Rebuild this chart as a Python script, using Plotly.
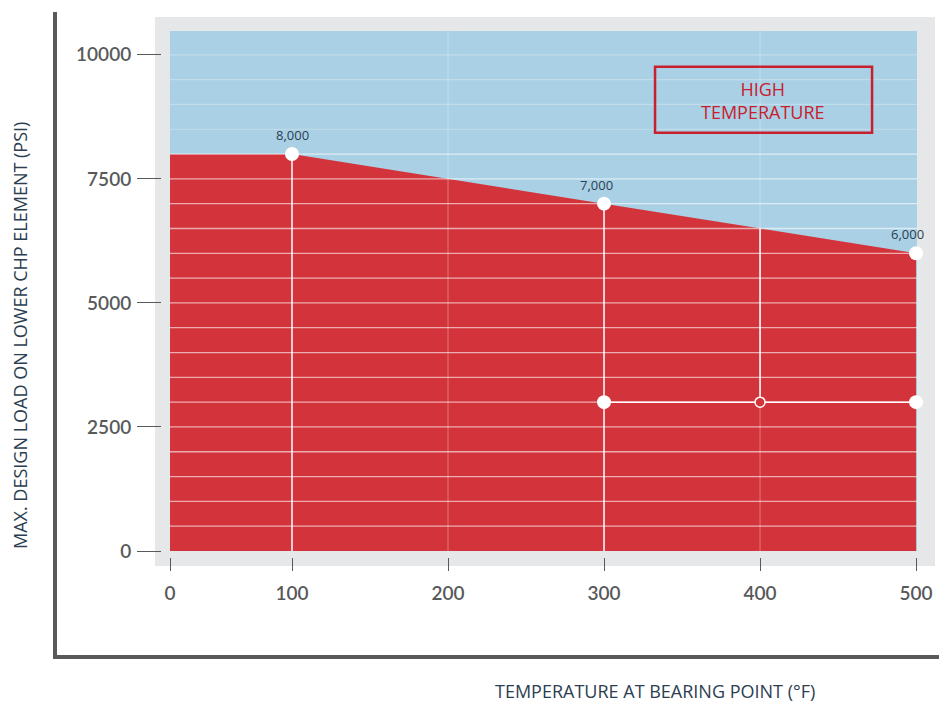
import numpy as np
import plotly.graph_objects as go

# ---------------- data ----------------
temps = [0, 100, 300, 500]                 # temperature at bearing point (°F)
max_load = [8000, 8000, 7000, 6000]        # max design load (PSI)

label_temps = [100, 300, 500]
label_loads = [8000, 7000, 6000]
label_texts = ["8,000", "7,000", "6,000"]

guide_verticals = [100, 300]               # white drop lines to the axis
row_temps = [300, 500]                     # filled points on the 3000 PSI row
row_load = 3000
hollow_temp = 400                          # hollow point on the 3000 PSI row

x_tick_vals = [100, 200, 300, 400, 500]
x_tick_labels = ["0", "100", "200", "300", "400", "500"]
y_tick_vals = [0, 2500, 5000, 7500, 10000]
y_tick_labels = ["0", "2500", "5000", "7500", "10000"]

box_text = "HIGH<br>TEMPERATURE"
x_title = "TEMPERATURE AT BEARING POINT (°F)"
y_title = "MAX. DESIGN LOAD ON LOWER CHP ELEMENT (PSI)"

# ---------------- layout constants ----------------
W, H = 939, 704
L, R, T, B = 161, 22, 31, 147
PW, PH = W - L - R, H - T - B


def px(xp):
    return (xp - L) / PW


def py(yp):
    return (H - B - yp) / PH


X0, X1 = 21.8, 500.6
Y0, Y1 = 0, 10480
GRID_STEP = 500

RED = "#d3343b"
BLUE = "#a9d0e4"
FRAME = "#e6e7e8"
DARK = "#58595b"
TEXT = "#2c3e50"
BOX_RED = "#c8202f"

fig = go.Figure()

# red area
fig.add_trace(go.Scatter(x=temps, y=max_load, mode="lines", fill="tozeroy",
                         fillcolor=RED, line=dict(width=0, color=RED),
                         hoverinfo="skip", showlegend=False))

# gridlines
top_limit = max(max_load)
bx, by, fx, fy = [], [], [], []
for v in np.arange(GRID_STEP, 10000 + 1, GRID_STEP):
    if v <= top_limit:
        bx += [X0, X1, None]; by += [v, v, None]
    else:
        fx += [X0, X1, None]; fy += [v, v, None]
for t in [200, 400]:
    fx += [t, t, None]; fy += [Y0, Y1, None]

fig.add_trace(go.Scatter(x=bx, y=by, mode="lines",
                         line=dict(color="rgba(255,255,255,0.6)", width=1.3),
                         hoverinfo="skip", showlegend=False))
fig.add_trace(go.Scatter(x=fx, y=fy, mode="lines",
                         line=dict(color="rgba(255,255,255,0.28)", width=1.2),
                         hoverinfo="skip", showlegend=False))

# guide lines
gx, gy = [], []
for t in guide_verticals:
    gx += [t, t, None]; gy += [0, float(np.interp(t, temps, max_load)), None]
gx += [hollow_temp, hollow_temp, None]
gy += [row_load, float(np.interp(hollow_temp, temps, max_load)), None]
gx += [min(row_temps), max(row_temps), None]
gy += [row_load, row_load, None]
fig.add_trace(go.Scatter(x=gx, y=gy, mode="lines",
                         line=dict(color="white", width=1.5),
                         hoverinfo="skip", showlegend=False))

# filled points
fig.add_trace(go.Scatter(x=label_temps + row_temps,
                         y=label_loads + [row_load] * len(row_temps),
                         mode="markers", cliponaxis=False,
                         marker=dict(size=14, color="white", line=dict(width=0)),
                         hoverinfo="skip", showlegend=False))
# hollow point
fig.add_trace(go.Scatter(x=[hollow_temp], y=[row_load], mode="markers",
                         cliponaxis=False,
                         marker=dict(size=10, color=RED,
                                     line=dict(width=1.5, color="white")),
                         hoverinfo="skip", showlegend=False))

# data labels
label_xshift = [0, -8, -9]
for t, v, s, xs in zip(label_temps, label_loads, label_texts, label_xshift):
    fig.add_annotation(x=t, y=v, text=s, showarrow=False, xshift=xs, yshift=19,
                       font=dict(family="Open Sans", size=13, color=TEXT))

# high temperature box
fig.add_shape(type="rect", x0=332.7, x1=471.8, y0=8427, y1=9758, xref="x", yref="y",
              line=dict(color=BOX_RED, width=2.5), fillcolor="rgba(0,0,0,0)",
              layer="above")
fig.add_annotation(x=402, y=9080, text=box_text, showarrow=False,
                   font=dict(family="Open Sans", size=18, color=BOX_RED))

# titles
fig.add_annotation(xref="paper", yref="paper", x=px(20), y=py(336), text=y_title,
                   textangle=-90, showarrow=False, xanchor="center", yanchor="middle",
                   font=dict(family="Open Sans", size=18, color=TEXT))
fig.add_annotation(xref="paper", yref="paper", x=px(655), y=py(690.5), text=x_title,
                   showarrow=False, xanchor="center", yanchor="middle",
                   font=dict(family="Open Sans", size=18, color=TEXT))

# background frame & plot background
fig.add_shape(type="rect", xref="paper", yref="paper",
              x0=px(155), x1=px(935), y0=py(566), y1=py(17),
              fillcolor=FRAME, line=dict(width=0), layer="below")
fig.add_shape(type="rect", xref="paper", yref="paper",
              x0=px(170), x1=1, y0=py(551), y1=1,
              fillcolor=BLUE, line=dict(width=0), layer="below")

# dark L-shaped axis
fig.add_shape(type="line", xref="paper", yref="paper",
              x0=px(55), x1=px(55), y0=py(657), y1=py(12),
              line=dict(color=DARK, width=4), layer="above")
fig.add_shape(type="line", xref="paper", yref="paper",
              x0=px(53), x1=px(945), y0=py(657), y1=py(657),
              line=dict(color=DARK, width=4), layer="above")

tickfont = dict(family="Lato", size=19, color=DARK, weight=600)
fig.update_layout(
    width=W, height=H,
    margin=dict(l=L, r=R, t=T, b=B, autoexpand=False),
    paper_bgcolor="white", plot_bgcolor="rgba(0,0,0,0)",
    showlegend=False,
    xaxis=dict(range=[X0, X1], domain=[px(170), 1], anchor="free", position=0,
               tickvals=[X0] + x_tick_vals, ticktext=x_tick_labels,
               ticks="outside", ticklen=13, tickwidth=1.3, tickcolor=DARK,
               ticklabelstandoff=6,
               showgrid=False, zeroline=False, showline=False,
               tickfont=tickfont, automargin=False),
    yaxis=dict(range=[Y0, Y1], domain=[py(551), 1], anchor="free", position=0,
               tickvals=y_tick_vals, ticktext=y_tick_labels,
               ticks="outside", ticklen=24, tickwidth=1.3, tickcolor=DARK,
               ticklabelstandoff=2,
               showgrid=False, zeroline=False, showline=False,
               tickfont=tickfont, automargin=False),
)

fig.write_html("out.html",
               config={"displayModeBar": False},
               post_script="document.body.style.margin='0';"
                           "document.body.style.overflow='hidden';")
